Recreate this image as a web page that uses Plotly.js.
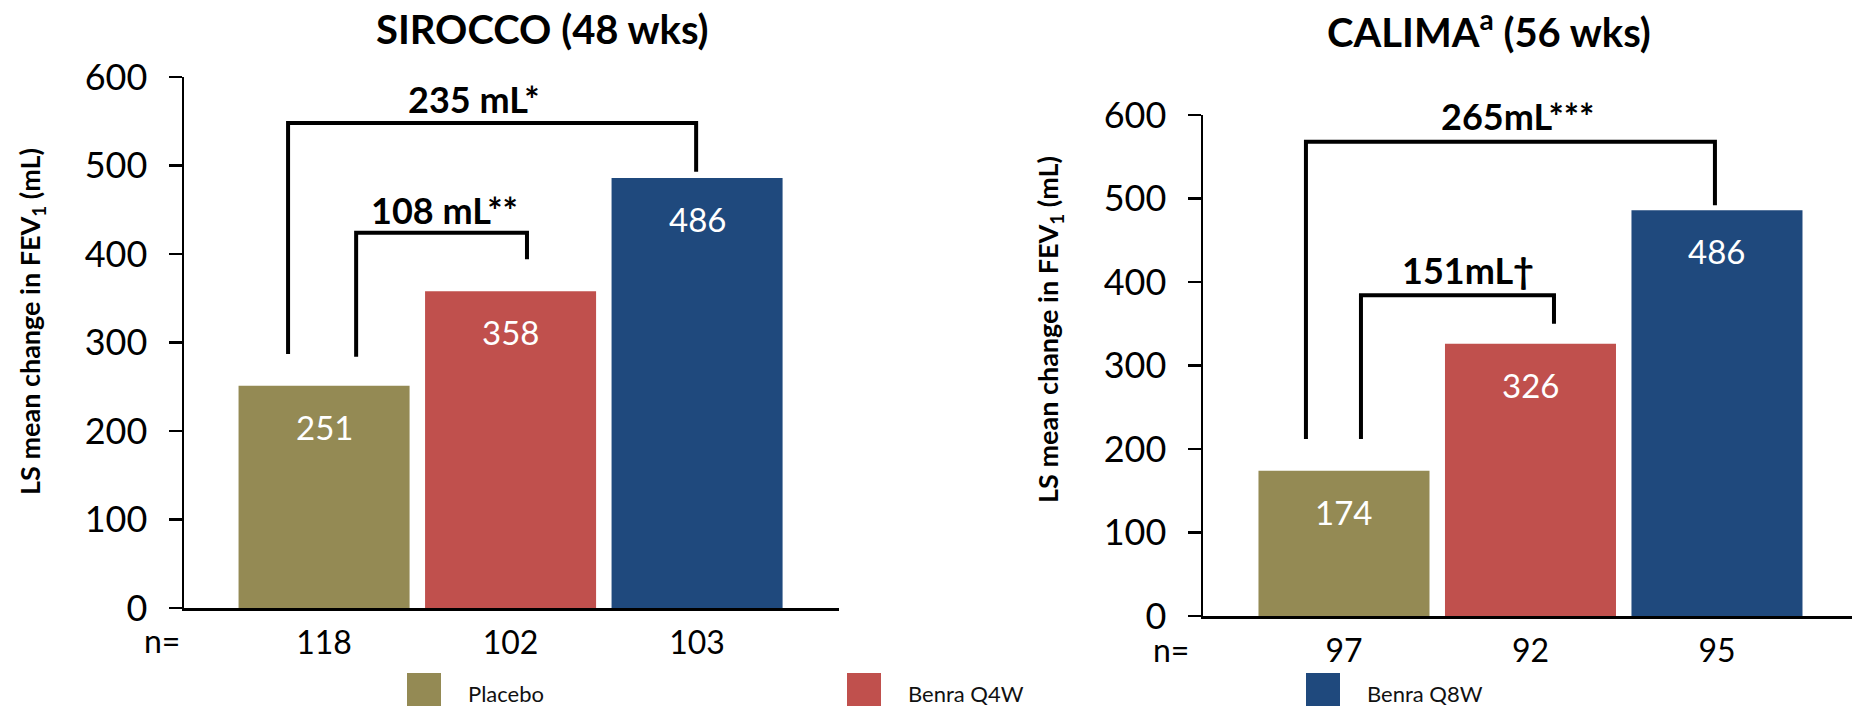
<!DOCTYPE html>
<html>
<head>
<meta charset="utf-8">
<script src="https://cdn.plot.ly/plotly-3.0.1.min.js"></script>
<style>
  html, body { margin: 0; padding: 0; background: #ffffff; }
  #chart { width: 1852px; height: 706px; }
</style>
</head>
<body>
<div id="chart"></div>
<script>
// ---------------- data ----------------
const categories = ['Placebo', 'Benra Q4W', 'Benra Q8W'];
const siroccoValues = [251, 358, 486];
const calimaValues = [174, 326, 486];
const siroccoN = ['118', '102', '103'];
const calimaN = ['97', '92', '95'];
const siroccoTitle = 'SIROCCO (48 wks)';
const calimaTitle = 'CALIMA<sup>a</sup> (56 wks)';
const siroccoDiffs = ['235 mL*', '108 mL**'];
const calimaDiffs = ['265mL***', '151mL†'];
const yTickVals = [0, 100, 200, 300, 400, 500, 600];
const yTitle = 'LS mean change in FEV<sub>1</sub> (mL)';
const nLabel = 'n=';

// ---------------- styles ----------------
const colors = ['#948A54', '#C0504D', '#1F497D'];
const FONT = "Lato, 'Open Sans', 'DejaVu Sans', sans-serif";
const W = 1852, H = 706;
const px = v => v / W;
const py = v => 1 - v / H;
const xIdx = categories.map((c, i) => i);

function barTrace(vals, xa, ya) {
  return {
    type: 'bar', x: xIdx, y: vals, xaxis: xa, yaxis: ya,
    width: 0.917,
    marker: { color: colors, line: { width: 0 } },
    hoverinfo: 'skip', showlegend: false, cliponaxis: false
  };
}

const data = [
  barTrace(siroccoValues, 'x', 'y'),
  barTrace(calimaValues, 'x2', 'y2')
];

function yAxis(domain, anchor) {
  return {
    domain: domain, anchor: anchor, range: [0, 600],
    tickvals: yTickVals, ticks: 'outside', ticklen: 13, tickwidth: 2.5, tickcolor: '#000',
    showline: true, linewidth: 2.5, linecolor: '#000', showgrid: false, zeroline: false,
    tickfont: { family: FONT, size: 36, color: '#000' }, ticklabelstandoff: 14,
    fixedrange: true
  };
}
function xAxis(domain, anchor, range, nvals) {
  return {
    domain: domain, anchor: anchor, range: range,
    tickvals: xIdx, ticktext: nvals, ticks: '', showline: true, linewidth: 2.5, linecolor: '#000',
    showgrid: false, zeroline: false,
    tickfont: { family: FONT, size: 32, color: '#000' }, ticklabelstandoff: 5,
    fixedrange: true
  };
}

// bracket geometry (data coordinates): [xLeft, yLeftBottom, yTop, xRight, yRightBottom]
const siroccoBrackets = [[-0.193, 287, 548, 1.995, 493], [0.172, 284, 424, 1.088, 394]];
const calimaBrackets = [[-0.204, 212, 568, 1.989, 492], [0.091, 212, 384, 1.126, 350]];
const siroccoDiffPos = [[0.80, 575], [0.646, 450]];
const calimaDiffPos = [[0.928, 599], [0.665, 414]];

const shapes = [];
function addBrackets(br, xr, yr) {
  br.forEach(b => {
    shapes.push({
      type: 'path', xref: xr, yref: yr,
      path: `M ${b[0]},${b[1]} L ${b[0]},${b[2]} L ${b[3]},${b[2]} L ${b[3]},${b[4]}`,
      line: { color: '#000', width: 4 }
    });
  });
}
addBrackets(siroccoBrackets, 'x', 'y');
addBrackets(calimaBrackets, 'x2', 'y2');

const annotations = [];
function barLabels(vals, xr, yr) {
  vals.forEach((v, i) => {
    annotations.push({
      x: i, y: v, xref: xr, yref: yr, yshift: -41, text: String(v), showarrow: false,
      font: { family: FONT, size: 33, color: '#ffffff' }, xanchor: 'center', yanchor: 'middle'
    });
  });
}
barLabels(siroccoValues, 'x', 'y');
barLabels(calimaValues, 'x2', 'y2');

function diffLabels(texts, pos, xr, yr) {
  texts.forEach((t, i) => {
    annotations.push({
      x: pos[i][0], y: pos[i][1], xref: xr, yref: yr, text: '<b>' + t + '</b>', showarrow: false,
      font: { family: FONT, size: 36, color: '#000' }, xanchor: 'center', yanchor: 'middle'
    });
  });
}
diffLabels(siroccoDiffs, siroccoDiffPos, 'x', 'y');
diffLabels(calimaDiffs, calimaDiffPos, 'x2', 'y2');

// panel titles
[[siroccoTitle, 542], [calimaTitle, 1489]].forEach(t => {
  annotations.push({
    x: px(t[1]), y: py(29), xref: 'paper', yref: 'paper', text: '<b>' + t[0] + '</b>',
    showarrow: false, xanchor: 'center', yanchor: 'middle',
    font: { family: FONT, size: 40, color: '#000' }
  });
});

// y axis titles
[[32, 322], [1050, 330]].forEach(p => {
  annotations.push({
    x: px(p[0]), y: py(p[1]), xref: 'paper', yref: 'paper', text: '<b>' + yTitle + '</b>',
    showarrow: false, textangle: -90, xanchor: 'center', yanchor: 'middle',
    font: { family: FONT, size: 27, color: '#000' }
  });
});

// n= labels
[[162, 640], [1171, 649]].forEach(p => {
  annotations.push({
    x: px(p[0]), y: py(p[1]), xref: 'paper', yref: 'paper', text: nLabel,
    showarrow: false, xanchor: 'center', yanchor: 'middle',
    font: { family: FONT, size: 32, color: '#000' }
  });
});

// legend
const legendX = [407, 847, 1306];
categories.forEach((c, i) => {
  shapes.push({
    type: 'rect', xref: 'paper', yref: 'paper',
    x0: px(legendX[i]), x1: px(legendX[i] + 34), y0: py(712), y1: py(673),
    fillcolor: colors[i], line: { width: 0 }
  });
  annotations.push({
    x: px(legendX[i] + 59), y: py(693), xref: 'paper', yref: 'paper', text: c,
    showarrow: false, xanchor: 'left', yanchor: 'middle',
    font: { family: FONT, size: 22, color: '#111' }
  });
});

const layout = {
  width: W, height: H,
  margin: { l: 0, r: 0, t: 0, b: 0 },
  paper_bgcolor: '#ffffff', plot_bgcolor: '#ffffff',
  showlegend: false,
  font: { family: FONT, color: '#000' },
  xaxis: xAxis([184 / W, 839 / W], 'y', [-0.751, 2.761], siroccoN),
  yaxis: yAxis([1 - 608 / H, 1 - 77 / H], 'x'),
  xaxis2: xAxis([1203 / W, 1], 'y2', [-0.756, 2.724], calimaN),
  yaxis2: yAxis([1 - 616 / H, 1 - 115 / H], 'x2'),
  shapes: shapes,
  annotations: annotations
};

Plotly.newPlot('chart', data, layout, { displayModeBar: false, staticPlot: true });
</script>
</body>
</html>
